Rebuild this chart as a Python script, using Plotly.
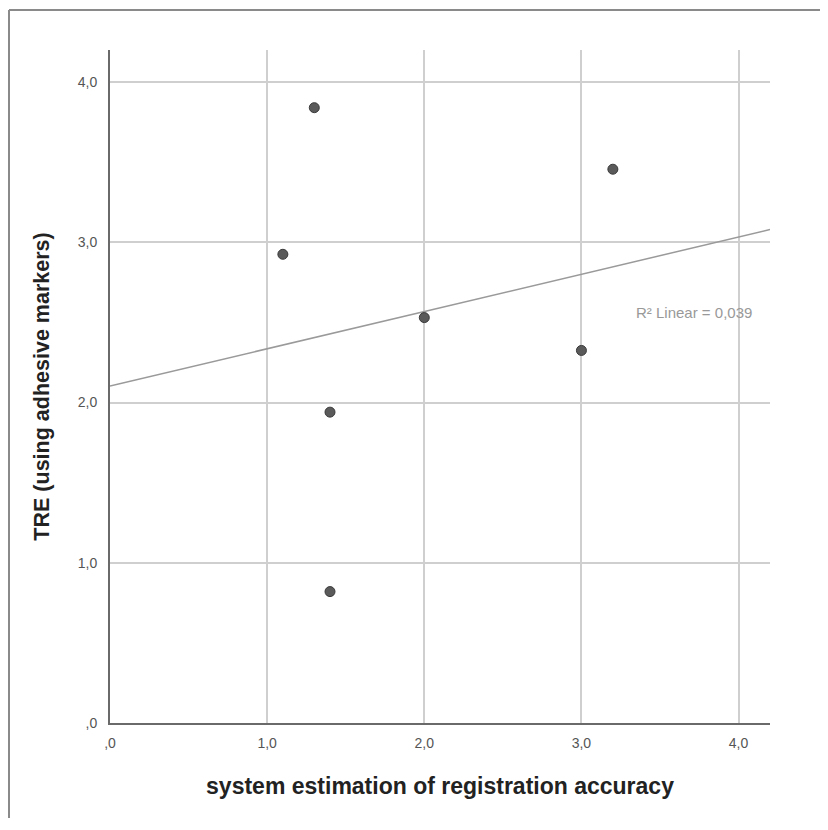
import numpy as np
import plotly.graph_objects as go

x_vals = [1.3, 1.1, 1.4, 1.4, 2.0, 3.0, 3.2]
y_vals = [3.84, 2.925, 1.94, 0.82, 2.53, 2.325, 3.456]
tick_vals = [0, 1, 2, 3, 4]
tick_text = [",0", "1,0", "2,0", "3,0", "4,0"]
r2_label = "R² Linear = 0,039"

xa = np.array(x_vals)
ya = np.array(y_vals)
slope, intercept = np.polyfit(xa, ya, 1)
line_x = np.array([0.0, 4.2])
line_y = intercept + slope * line_x

W, H = 812, 810
L, R, T, B = 102, 50, 42, 95
PW, PH = W - L - R, H - T - B

fig = go.Figure()
fig.add_trace(go.Scatter(x=line_x, y=line_y, mode="lines",
                         line=dict(color="#9a9a9a", width=1.5),
                         hoverinfo="skip", showlegend=False))
fig.add_trace(go.Scatter(x=x_vals, y=y_vals, mode="markers",
                         marker=dict(size=10, color="#5a5a5a",
                                     line=dict(color="#3a3a3a", width=1)),
                         showlegend=False))

fig.add_annotation(x=4.1, y=2.5625, xref="x", yref="y", text=r2_label,
                   showarrow=False, xanchor="right", yanchor="middle",
                   font=dict(family="Liberation Sans, Arial", size=15, color="#999"))

# outer frame (top and left edges visible)
fig.add_shape(type="line", xref="paper", yref="paper",
              x0=-(L - 1) / PW, x1=1 + (R + 20) / PW,
              y0=1 + (T - 2) / PH, y1=1 + (T - 2) / PH,
              line=dict(color="#8a8a8a", width=2), layer="below")
fig.add_shape(type="line", xref="paper", yref="paper",
              x0=-(L - 1) / PW, x1=-(L - 1) / PW,
              y0=-(B + 20) / PH, y1=1 + (T - 2) / PH,
              line=dict(color="#8a8a8a", width=2), layer="below")

fig.update_layout(
    width=W, height=H,
    margin=dict(l=L, r=R, t=T, b=B),
    paper_bgcolor="white", plot_bgcolor="white",
    font=dict(family="Liberation Sans, Arial", color="#555"),
)
fig.update_xaxes(range=[0, 4.2], tickvals=tick_vals, ticktext=tick_text,
                 showgrid=True, gridcolor="#cfcfcf", gridwidth=1.5,
                 showline=True, linecolor="#6a6a6a", linewidth=2,
                 zeroline=False, ticks="", ticklabelstandoff=6,
                 tickfont=dict(size=14, color="#555"),
                 title=dict(text="<b>system estimation of registration accuracy</b>",
                            font=dict(size=23, color="#222"), standoff=28))
fig.update_yaxes(range=[0, 4.2], tickvals=tick_vals, ticktext=tick_text,
                 showgrid=True, gridcolor="#cfcfcf", gridwidth=1.5,
                 showline=True, linecolor="#6a6a6a", linewidth=2,
                 zeroline=False, ticks="", ticklabelstandoff=8,
                 tickfont=dict(size=14, color="#555"),
                 title=dict(text="<b>TRE (using adhesive markers)</b>",
                            font=dict(size=21.5, color="#222"), standoff=22))

fig.write_html("out.html")
